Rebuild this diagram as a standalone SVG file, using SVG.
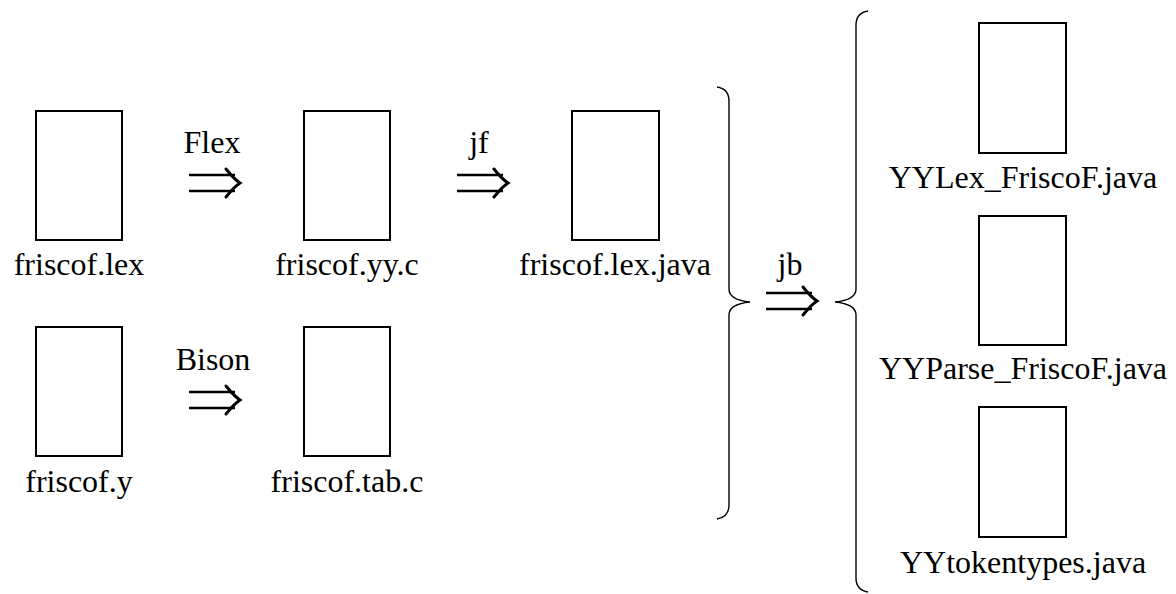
<svg xmlns="http://www.w3.org/2000/svg" width="1176" height="594" viewBox="0 0 1176 594">
<defs>
<g id="dbl">
<path d="M0,-8 H46 M0,8 H46" fill="none" stroke="#000" stroke-width="2.6"/>
<path d="M37,-14 Q45,-4 51,0 Q45,4 37,14" fill="none" stroke="#000" stroke-width="3" stroke-linecap="round"/>
</g>
</defs>
<rect width="1176" height="594" fill="#fff"/>
<g fill="#fff" stroke="#000" stroke-width="2">
<g id="n-friscof-lex"><rect x="36" y="111" width="86" height="129"/></g>
<g id="n-friscof-yy-c"><rect x="304" y="111" width="86" height="129"/></g>
<g id="n-friscof-lex-java"><rect x="572" y="111" width="87" height="129"/></g>
<g id="n-friscof-y"><rect x="36" y="327" width="86" height="129"/></g>
<g id="n-friscof-tab-c"><rect x="304" y="327" width="86" height="129"/></g>
<g id="n-yylex"><rect x="979" y="23" width="87" height="130"/></g>
<g id="n-yyparse"><rect x="979" y="216" width="87" height="129"/></g>
<g id="n-yytokentypes"><rect x="979" y="407" width="87" height="130"/></g>
</g>
<g id="labels" font-family="Liberation Serif" font-size="32" text-anchor="middle" fill="#000">
<text x="79" y="275">friscof.lex</text>
<text x="347" y="275">friscof.yy.c</text>
<text x="615" y="275">friscof.lex.java</text>
<text x="79" y="492">friscof.y</text>
<text x="347" y="492">friscof.tab.c</text>
<text x="1023" y="188">YYLex_FriscoF.java</text>
<text x="1023" y="379">YYParse_FriscoF.java</text>
<text x="1023" y="573">YYtokentypes.java</text>
<text x="212" y="153">Flex</text>
<text x="479" y="153">jf</text>
<text x="213" y="370">Bison</text>
<text x="790" y="275">jb</text>
</g>
<g id="connectors">
<use href="#dbl" x="189" y="183"/>
<use href="#dbl" x="457" y="183"/>
<use href="#dbl" x="189" y="400"/>
<use href="#dbl" x="766" y="301"/>
<path fill="none" stroke="#000" stroke-width="1.4" d="M717,87 Q729,89 729,101 V289 Q729,300 750,302 Q729,304 729,315 V505 Q729,517 717,519"/>
<path fill="none" stroke="#000" stroke-width="1.4" d="M868,11 Q856,13 856,25 V289 Q856,300 835,302 Q856,304 856,315 V578 Q856,590 868,592"/>
</g>
</svg>
